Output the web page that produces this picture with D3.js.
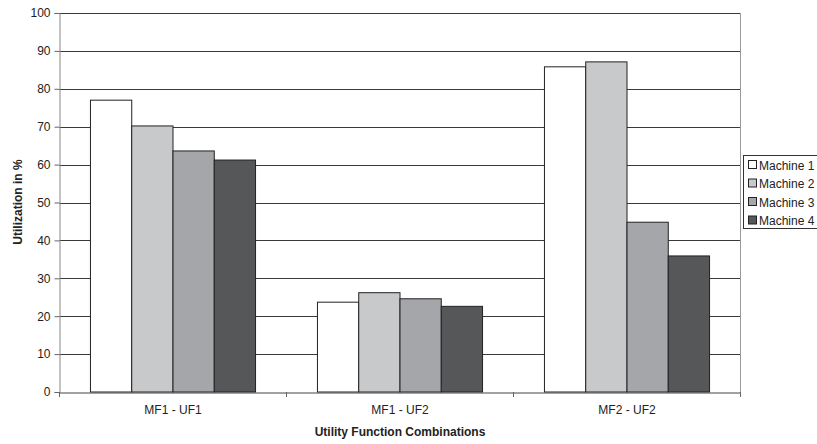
<!DOCTYPE html>
<html><head><meta charset="utf-8">
<script src="https://cdn.jsdelivr.net/npm/d3@7"></script>
<style>body{margin:0;background:#fff}svg{display:block}text{font-family:"Liberation Sans",Arial,sans-serif}</style>
</head><body><svg id="c" width="817" height="444"></svg>
<script>
const categories = ["MF1 - UF1", "MF1 - UF2", "MF2 - UF2"];
const seriesNames = ["Machine 1", "Machine 2", "Machine 3", "Machine 4"];
const machine1 = [77.0, 23.7, 85.8];
const machine2 = [70.2, 26.2, 87.1];
const machine3 = [63.6, 24.6, 44.8];
const machine4 = [61.2, 22.6, 35.9];
const yTicks = [0,10,20,30,40,50,60,70,80,90,100];
const colors = ["#ffffff", "#c8c9cb", "#a5a6a9", "#555759"];

const series = [machine1, machine2, machine3, machine4];
const svg = d3.select("#c");
const L = 59.5, R = 740.5, T = 13, B = 392;
const x = d3.scaleBand().domain(categories).range([L, R]).paddingInner(0).paddingOuter(0);
const y = d3.scaleLinear().domain([0, 100]).range([B, T]);
const inner = d3.scaleBand().domain(seriesNames).range([0, x.bandwidth()]).paddingInner(0).paddingOuter(0.75);

// gridlines
svg.append("g").selectAll("line").data(yTicks.filter(d => d > 0)).join("line")
  .attr("x1", L).attr("x2", R).attr("y1", d => Math.round(y(d)) + 0.5).attr("y2", d => Math.round(y(d)) + 0.5)
  .attr("stroke", "#3a3a3a").attr("stroke-width", 1);

// right border
svg.append("line").attr("x1", R).attr("x2", R).attr("y1", T).attr("y2", B).attr("stroke", "#999").attr("stroke-width", 1);

// bars
categories.forEach((c, ci) => {
  series.forEach((s, si) => {
    svg.append("rect")
      .attr("x", x(c) + inner(seriesNames[si]))
      .attr("y", y(s[ci]))
      .attr("width", inner.bandwidth())
      .attr("height", B - y(s[ci]))
      .attr("fill", colors[si]).attr("stroke", "#222").attr("stroke-width", 1);
  });
});

// y axis
const ya = svg.append("g").attr("transform", `translate(${L},0)`)
  .call(d3.axisLeft(y).tickValues(yTicks).tickSize(5).tickPadding(4).tickFormat(d3.format("d")));
ya.select(".domain").attr("stroke", "#888");
ya.selectAll(".tick line").attr("stroke", "#666");
ya.selectAll("text").attr("font-size", 12).attr("fill", "#222").style("font-family", '"Liberation Sans",Arial,sans-serif');

// x axis
const xa = svg.append("g").attr("transform", `translate(0,${B + 0.5})`)
  .call(d3.axisBottom(x).tickSize(0).tickPadding(13));
xa.select(".domain").attr("stroke", "#444");
xa.selectAll("text").attr("font-size", 12).attr("fill", "#222").style("font-family", '"Liberation Sans",Arial,sans-serif');
// boundary ticks
svg.append("g").selectAll("line").data([...categories.map(c => x(c)), R]).join("line")
  .attr("x1", d => d).attr("x2", d => d).attr("y1", B).attr("y2", B + 5).attr("stroke", "#666");

// axis titles
svg.append("text").attr("x", 400).attr("y", 436).attr("text-anchor", "middle")
  .attr("font-size", 12).attr("font-weight", "bold").attr("fill", "#222").text("Utility Function Combinations");
svg.append("text").attr("transform", "translate(22,202) rotate(-90)").attr("text-anchor", "middle")
  .attr("font-size", 12).attr("font-weight", "bold").attr("fill", "#222").text("Utilization in %");

// legend
const lg = svg.append("g");
lg.append("rect").attr("x", 743.5).attr("y", 155.5).attr("width", 80).attr("height", 73)
  .attr("fill", "#fff").attr("stroke", "#333");
seriesNames.forEach((n, i) => {
  const yy = 160 + i * 18.5;
  lg.append("rect").attr("x", 748.5).attr("y", yy + 0.5).attr("width", 8).attr("height", 8)
    .attr("fill", colors[i]).attr("stroke", "#222");
  lg.append("text").attr("x", 759).attr("y", yy + 9.5).attr("font-size", 12).attr("fill", "#222").text(n);
});
</script></body></html>
